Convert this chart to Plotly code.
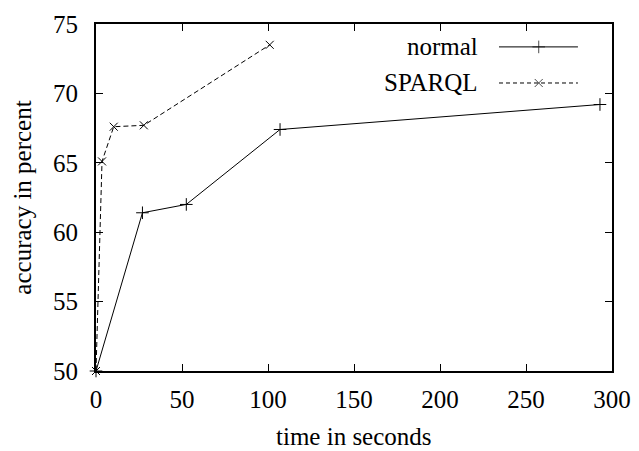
import plotly.graph_objects as go

# Data
normal_x = [0, 27, 52.5, 107, 293]
normal_y = [50, 61.4, 62.0, 67.4, 69.2]
sparql_x = [0, 3.5, 10.3, 27.8, 101]
sparql_y = [50, 65.1, 67.6, 67.7, 73.5]

x_ticks = [0, 50, 100, 150, 200, 250, 300]
y_ticks = [50, 55, 60, 65, 70, 75]

legend_names = ["normal", "SPARQL"]
x_title = "time in seconds"
y_title = "accuracy in percent"

FONT = "Liberation Serif, Times New Roman, serif"
FS = 25

fig = go.Figure()
fig.add_trace(go.Scatter(
    x=normal_x, y=normal_y, mode="lines+markers", name="normal",
    line=dict(color="black", width=1),
    marker=dict(symbol="cross-thin", size=9, line=dict(color="black", width=1)),
    cliponaxis=False, showlegend=False))
fig.add_trace(go.Scatter(
    x=sparql_x, y=sparql_y, mode="lines+markers", name="SPARQL",
    line=dict(color="black", width=1, dash="5px,3px"),
    marker=dict(symbol="x-thin", size=8, line=dict(color="black", width=1)),
    cliponaxis=False, showlegend=False))

# gnuplot-style key: text on the left, sample on the right (overlay axes 0..1)
key_rows = [0.934, 0.830]
key_styles = [
    (dict(color="black", width=1), "cross-thin", 9),
    (dict(color="black", width=1, dash="4px,3px"), "x-thin", 8),
]
for name, ry, (ln, sym, sz) in zip(legend_names, key_rows, key_styles):
    fig.add_trace(go.Scatter(
        x=[0.781, 0.858, 0.934], y=[ry, ry, ry], xaxis="x2", yaxis="y2",
        mode="lines+markers", line=ln,
        marker=dict(symbol=sym, size=[0, sz, 0], line=dict(color="black", width=1)),
        showlegend=False, hoverinfo="skip", cliponaxis=False))
    fig.add_annotation(x=0.745, y=ry, xref="paper", yref="paper", text=name,
                       showarrow=False, xanchor="right", yanchor="middle",
                       font=dict(family=FONT, size=FS, color="black"))

# x-axis title placed like gnuplot's (near the bottom edge)
fig.add_annotation(x=0.5, y=0, xref="paper", yref="paper", text=x_title,
                   showarrow=False, xanchor="center", yanchor="middle", yshift=-65,
                   font=dict(family=FONT, size=FS, color="black"))

axis_common = dict(
    showgrid=False, zeroline=False, showline=True, linecolor="black", linewidth=2,
    mirror="ticks", ticks="inside", ticklen=7, tickwidth=1, tickcolor="black",
    tickfont=dict(family=FONT, size=FS, color="black"), automargin=False,
)

fig.update_layout(
    width=639, height=451,
    margin=dict(l=96, r=27, t=24, b=80),
    paper_bgcolor="white", plot_bgcolor="white",
    font=dict(family=FONT, size=FS, color="black"),
    xaxis=dict(range=[0, 300], tickvals=x_ticks, ticklabelstandoff=5,
               **axis_common),
    yaxis=dict(range=[50, 75], tickvals=y_ticks, ticklabelstandoff=11,
               title=dict(text=y_title, standoff=14,
                          font=dict(family=FONT, size=FS)),
               **axis_common),
    xaxis2=dict(range=[0, 1], overlaying="x", visible=False, fixedrange=True),
    yaxis2=dict(range=[0, 1], overlaying="y", visible=False, fixedrange=True),
    showlegend=False,
)

fig.write_html("out.html", config={"displayModeBar": False},
               post_script="document.body.style.margin='0';"
                           "document.body.style.overflow='hidden';")
